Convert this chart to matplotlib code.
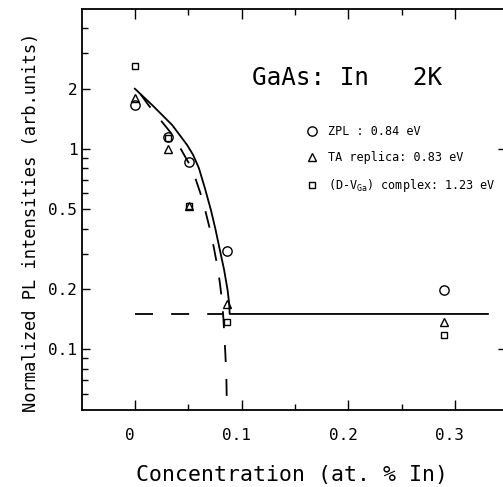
import matplotlib
matplotlib.use('Agg')
import matplotlib.pyplot as plt
from matplotlib.ticker import FixedLocator, FixedFormatter, NullFormatter
from matplotlib.transforms import ScaledTranslation

plt.rcParams['font.family'] = ['DejaVu Sans Mono', 'DejaVu Sans']
plt.rcParams['mathtext.fontset'] = 'custom'
plt.rcParams['mathtext.rm'] = 'DejaVu Sans Mono'
plt.rcParams['mathtext.it'] = 'DejaVu Sans Mono'
plt.rcParams['lines.scale_dashes'] = False

# ---------------- data ----------------
conc = [0.0, 0.031, 0.051, 0.086, 0.29]
zpl = [1.66, 1.15, 0.86, 0.31, 0.197]
ta_replica = [1.79, 1.0, 0.52, 0.169, 0.136]
dv_complex = [2.6, 1.13, 0.52, 0.136, 0.118]

fit_conc = [0.0, 0.0162, 0.0350, 0.0490, 0.0544, 0.0600, 0.0656, 0.0713,
            0.0755, 0.0790, 0.0837, 0.0869, 0.0884, 0.0889, 0.331]
fit_int = [2.0, 1.658, 1.317, 1.047, 0.939, 0.804, 0.639, 0.496,
           0.399, 0.326, 0.249, 0.198, 0.170, 0.150, 0.150]

dash_conc = [0.0052, 0.0131, 0.0241, 0.0350, 0.0431, 0.0506, 0.0563, 0.0614,
             0.0661, 0.0703, 0.0741, 0.0773, 0.0797, 0.0816, 0.0828, 0.0839,
             0.0849, 0.0858, 0.0862]
dash_int = [1.881, 1.648, 1.395, 1.181, 1.0, 0.849, 0.725, 0.603,
            0.491, 0.399, 0.321, 0.261, 0.2146, 0.1765, 0.1486, 0.1181,
            0.0939, 0.0721, 0.0547]

base_conc = [0.0, 0.0825]
base_int = [0.150, 0.150]

xticks = [0.0, 0.1, 0.2, 0.3]
xticklabels = ['0', '0.1', '0.2', '0.3']
xminor = [0.05, 0.15, 0.25]
yticks = [0.1, 0.2, 0.5, 1.0, 2.0]
yticklabels = ['0.1', '0.2', '0.5', '1', '2']
yminor = [0.06, 0.07, 0.08, 0.09, 0.3, 0.4, 0.6, 0.7, 0.8, 0.9, 3, 4]

labels = ['ZPL : 0.84 eV', 'TA replica: 0.83 eV',
          r'(D-$\mathrm{V}_{\mathrm{Ga}}$) complex: 1.23 eV']
title = 'GaAs: In   2K'
xlabel = 'Concentration (at. % In)'
ylabel = 'Normalized PL intensities (arb.units)'

# ---------------- figure ----------------
W, H = 503, 487
fig = plt.figure(figsize=(W / 100, H / 100), dpi=100)
ax = fig.add_axes([81.5 / W, 1 - 409.5 / H, 426.7 / W, 400.5 / H])

ax.plot(fit_conc, fit_int, color='black', lw=1.3, solid_joinstyle='round')
ax.plot(dash_conc, dash_int, color='black', lw=1.3, dashes=(12.2, 12.2))
ax.plot(base_conc, base_int, color='black', lw=1.3, dashes=(13, 13))

h1, = ax.plot(conc, zpl, 'o', mfc='none', mec='black', ms=6.7, mew=1.0)
h2, = ax.plot(conc, ta_replica, '^', mfc='none', mec='black', ms=5.8, mew=1.0)
h3, = ax.plot(conc, dv_complex, 's', mfc='none', mec='black', ms=4.6, mew=1.0)

ax.set_xlim(-0.05, 0.35)
ax.set_yscale('log')
ax.set_ylim(0.05, 5)

ax.xaxis.set_major_locator(FixedLocator(xticks))
ax.xaxis.set_major_formatter(FixedFormatter(xticklabels))
ax.xaxis.set_minor_locator(FixedLocator(xminor))
ax.yaxis.set_major_locator(FixedLocator(yticks))
ax.yaxis.set_major_formatter(FixedFormatter(yticklabels))
ax.yaxis.set_minor_locator(FixedLocator(yminor))
ax.yaxis.set_minor_formatter(NullFormatter())

ax.tick_params(axis='x', which='major', direction='in', top=True, bottom=True,
               length=7, width=1, labelsize=11.5, pad=13)
ax.tick_params(axis='x', which='minor', direction='in', top=True, bottom=True,
               length=4, width=1)
ax.tick_params(axis='y', which='major', direction='in', left=True, right=False,
               length=6, width=1, labelsize=11.5, pad=3)
ax.tick_params(axis='y', which='minor', direction='in', left=True, right=False,
               length=4, width=1)

for lab in ax.get_xticklabels():
    lab.set_transform(lab.get_transform() +
                      ScaledTranslation(-5 / 100, 0, fig.dpi_scale_trans))

for s in ['left', 'bottom', 'top']:
    ax.spines[s].set_linewidth(1.3)
ax.spines['right'].set_visible(False)

sec = ax.secondary_yaxis('right')
sec.set_yticks([0.1, 1.0])
sec.tick_params(direction='in', length=7, width=1, labelright=False)
sec.spines['right'].set_visible(False)

fig.text(252 / W, 1 - 85 / H, title, fontsize=17.5, ha='left', va='baseline')
fig.text(292 / W, 1 - 481 / H, xlabel, fontsize=15.5, ha='center', va='baseline')
fig.text(31 / W, 1 - 222 / H, ylabel, fontsize=12.3, rotation=90,
         ha='center', va='center')

leg = ax.legend([h1, h2, h3], labels, loc='upper left',
                bbox_to_anchor=(306 / W, 1 - 125 / H), bbox_transform=fig.transFigure,
                frameon=False, prop={'size': 8.5},
                handlelength=1.0, handletextpad=0.85,
                labelspacing=1.1, borderpad=0, borderaxespad=0, numpoints=1)

fig.savefig('out.png', dpi=100)
